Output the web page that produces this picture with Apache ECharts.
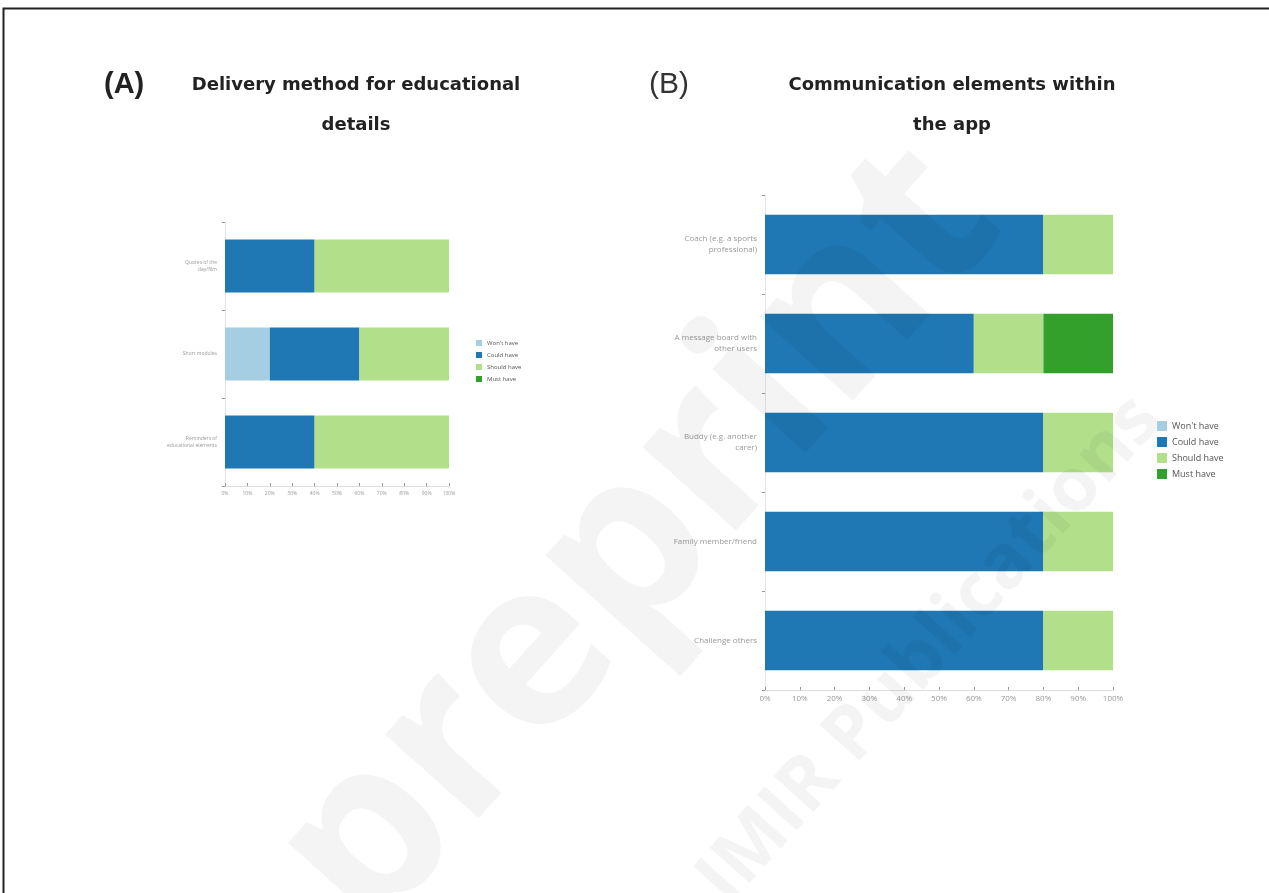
<!DOCTYPE html>
<html>
<head>
  <meta charset="utf-8">
  <title>Communication elements</title>
  <script src="https://cdn.jsdelivr.net/npm/echarts@6/dist/echarts.min.js"></script>
  <style>
    html, body { margin: 0; padding: 0; background: #fff; }
    #chart { width: 1269px; height: 893px; }
  </style>
</head>
<body>
  <div id="chart"></div>
  <script>
    // panel A data (percent of responses)
    const catsA = ['Quotes of the\nday/film', 'Short modules', 'Reminders of\neducational elements'];
    const wontA = [0, 20, 0];
    const couldA = [40, 40, 40];
    const shouldA = [60, 40, 60];
    const mustA = [0, 0, 0];

    // panel B data
    const catsB = ['Coach (e.g. a sports\nprofessional)', 'A message board with\nother users', 'Buddy (e.g. another\ncarer)', 'Family member/friend', 'Challenge others'];
    const wontB = [0, 0, 0, 0, 0];
    const couldB = [80, 60, 80, 80, 80];
    const shouldB = [20, 20, 20, 20, 20];
    const mustB = [0, 20, 0, 0, 0];

    const levels = ['Won\'t have', 'Could have', 'Should have', 'Must have'];
    const colors = ['#a6cee3', '#1f78b4', '#b2df8a', '#33a02c'];

    const chart = echarts.init(document.getElementById('chart'));

    function xAx(idx, fs) {
      return {
        type: 'value', gridIndex: idx, min: 0, max: 100, interval: 10,
        axisLabel: { formatter: '{value}%', fontSize: fs, color: '#999', fontFamily: 'Open Sans', margin: 5 },
        axisLine: { show: true, lineStyle: { color: '#ddd' } },
        axisTick: { show: true, inside: true, length: 3, lineStyle: { color: '#999' } },
        splitLine: { show: false }
      };
    }
    function yAx(idx, cats, fs) {
      return {
        type: 'category', gridIndex: idx, data: cats, inverse: true,
        axisLabel: { fontSize: fs, color: '#999', fontFamily: 'Open Sans', margin: 8, lineHeight: fs * 1.4 },
        axisLine: { show: true, lineStyle: { color: '#e4e4e4' } },
        axisTick: { show: true, length: 3, lineStyle: { color: '#999' } }
      };
    }

    const series = [];
    const setsA = [wontA, couldA, shouldA, mustA];
    const setsB = [wontB, couldB, shouldB, mustB];
    levels.forEach((name, i) => {
      series.push({ name, type: 'bar', stack: 'a', xAxisIndex: 0, yAxisIndex: 0, data: setsA[i], barWidth: '60%', itemStyle: { color: colors[i] } });
      series.push({ name, type: 'bar', stack: 'b', xAxisIndex: 1, yAxisIndex: 1, data: setsB[i], barWidth: '60%', itemStyle: { color: colors[i] } });
    });

    const titleFont = { fontFamily: 'DejaVu Sans', fontWeight: 'bold', fontSize: 18, fill: '#222', textAlign: 'center', lineHeight: 40 };

    chart.setOption({
      animation: false,
      backgroundColor: '#fff',
      color: colors,
      grid: [
        { left: 225, right: 820, top: 222, bottom: 407 },
        { left: 765, right: 156, top: 195, bottom: 203 }
      ],
      xAxis: [xAx(0, 5), xAx(1, 8)],
      yAxis: [yAx(0, catsA, 5), yAx(1, catsB, 8)],
      legend: [
        { orient: 'vertical', left: 471, top: 335, itemWidth: 6, itemHeight: 6, itemGap: 6, icon: 'rect', data: levels, textStyle: { fontSize: 6, color: '#555', fontFamily: 'Open Sans' } },
        { orient: 'vertical', left: 1152, top: 416, itemWidth: 10, itemHeight: 10, itemGap: 6, icon: 'rect', data: levels, textStyle: { fontSize: 9, color: '#555', fontFamily: 'Open Sans' } }
      ],
      graphic: [
        { type: 'rect', shape: { x: 3.5, y: 8.5, width: 1300, height: 900 }, style: { fill: null, stroke: '#222', lineWidth: 2 }, z: 100 },
        { type: 'text', x: 640, y: 540, rotation: 0.84, style: { text: 'preprint', fontSize: 230, fontFamily: 'Open Sans', fontWeight: 'bold', fill: 'rgba(0,0,0,0.045)', textAlign: 'center', textVerticalAlign: 'middle' }, z: 50 },
        { type: 'text', x: 930, y: 650, rotation: 0.84, style: { text: 'JMIR Publications', fontSize: 75, fontFamily: 'Open Sans', fontWeight: 'bold', fill: 'rgba(0,0,0,0.045)', textAlign: 'center', textVerticalAlign: 'middle' }, z: 50 },
        { type: 'text', x: 104, y: 70, style: { text: '(A)', fontSize: 29, fontWeight: 'bold', fontFamily: 'Liberation Sans', fill: '#222' } },
        { type: 'text', x: 649, y: 70, style: { text: '(B)', fontSize: 30, fontFamily: 'Liberation Sans', fill: '#333' } },
        { type: 'text', x: 356, y: 65, style: Object.assign({ text: 'Delivery method for educational\ndetails' }, titleFont) },
        { type: 'text', x: 952, y: 65, style: Object.assign({ text: 'Communication elements within\nthe app' }, titleFont) }
      ],
      series
    });
  </script>
</body>
</html>
